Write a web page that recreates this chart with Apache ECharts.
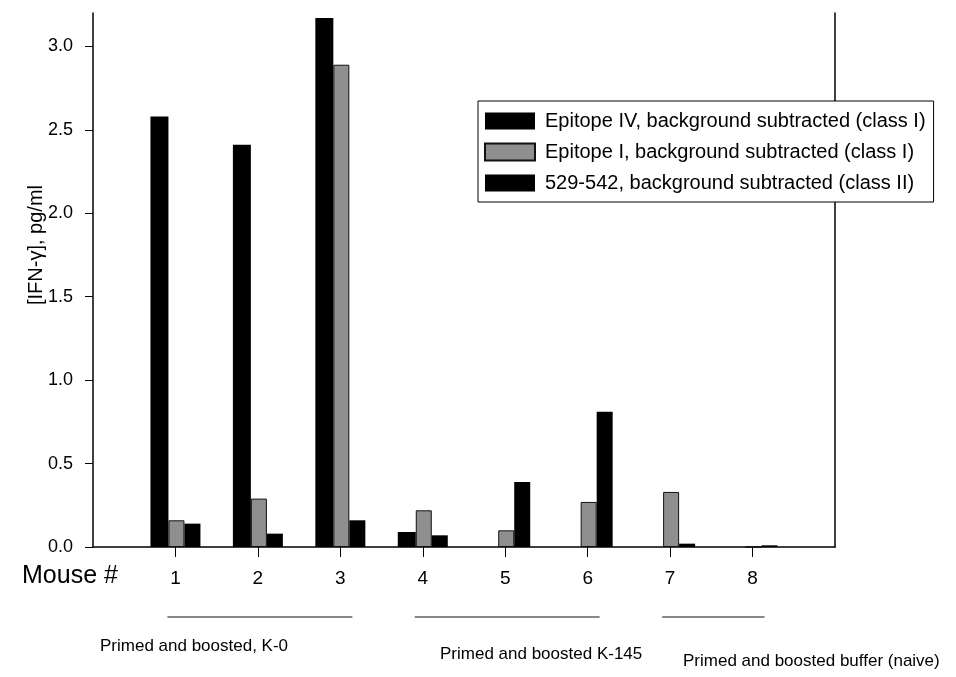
<!DOCTYPE html>
<html lang="en">
<head>
  <meta charset="UTF-8">
  <title>IFN-gamma by mouse</title>
  <style>
    html, body { margin: 0; padding: 0; background: #fff; }
    #main { width: 956px; height: 677px; }
  </style>
</head>
<body>
<div id="main"></div>
<script src="https://cdn.jsdelivr.net/npm/echarts@6/dist/echarts.min.js"></script>
<script>
  // mice 1..8, with an empty slot at each end so the y axis sits at "0"
  var mice = ['1', '2', '3', '4', '5', '6', '7', '8'];
  var epitopeIV = [2.58, 2.41, 3.17, 0.09, 0, 0, 0, 0];
  var epitopeI = [0.16, 0.29, 2.89, 0.22, 0.10, 0.27, 0.33, 0];
  var pep529 = [0.14, 0.08, 0.16, 0.07, 0.39, 0.81, 0.02, 0.01];
  var yTicks = [0, 0.5, 1.0, 1.5, 2.0, 2.5, 3.0];
  var groups = [
    { name: 'Primed and boosted, K-0', from: '1', to: '3' },
    { name: 'Primed and boosted K-145', from: '4', to: '6' },
    { name: 'Primed and boosted buffer (naive)', from: '7', to: '8' }
  ];

  var font = 'Liberation Sans, Arial, sans-serif';
  var cats = [''].concat(mice, ['']);
  var pad = function (arr) { return [null].concat(arr, [null]); };

  var chartDom = document.getElementById('main');
  var myChart = echarts.init(chartDom);

  var option = {
    backgroundColor: '#fff',
    animation: false,
    textStyle: { fontFamily: font, color: '#000' },
    grid: { left: 93, top: 13, width: 742, height: 534 },
    legend: {
      orient: 'vertical',
      left: 478,
      top: 101,
      icon: 'rect',
      itemWidth: 50,
      itemHeight: 17,
      itemGap: 11,
      padding: [10, 8, 9, 6],
      borderColor: '#000',
      borderWidth: 1,
      backgroundColor: '#fff',
      textStyle: { fontSize: 20, color: '#000', fontFamily: font, padding: [0, 0, 0, 5] },
      data: [
        'Epitope IV, background subtracted (class I)',
        'Epitope I, background subtracted (class I)',
        '529-542, background subtracted (class II)'
      ]
    },
    xAxis: {
      type: 'category',
      data: cats,
      boundaryGap: false,
      axisLine: { lineStyle: { color: '#000', width: 1.5 } },
      axisTick: {
        inside: false,
        length: 10,
        lineStyle: { color: '#000' },
        interval: function (idx) { return idx >= 1 && idx <= mice.length; }
      },
      axisLabel: {
        margin: 22,
        fontSize: 19,
        color: '#000',
        interval: 0,
        fontFamily: font
      },
      splitLine: { show: false }
    },
    yAxis: [
      {
        type: 'value',
        min: 0,
        max: 3.2,
        name: '[IFN-γ], pg/ml',
        nameLocation: 'middle',
        nameGap: 47,
        nameMoveOverlap: false,
        nameTextStyle: { fontSize: 20, color: '#000', fontFamily: font, padding: [0, 0, 0, 70] },
        axisLine: { show: true, lineStyle: { color: '#000', width: 1.5 } },
        axisTick: { show: true, length: 8, customValues: yTicks, lineStyle: { color: '#000' } },
        axisLabel: {
          customValues: yTicks,
          fontSize: 18,
          color: '#000',
          margin: 20,
          fontFamily: font,
          formatter: function (v) { return v.toFixed(1); }
        },
        splitLine: { show: false }
      },
      {
        type: 'value',
        min: 0,
        max: 3.2,
        position: 'right',
        axisLine: { show: true, lineStyle: { color: '#000', width: 1.5 } },
        axisTick: { show: false },
        axisLabel: { show: false },
        splitLine: { show: false }
      }
    ],
    series: [
      {
        name: 'Epitope IV, background subtracted (class I)',
        type: 'bar',
        barWidth: 18,
        barGap: 0,
        itemStyle: { color: '#000' },
        data: pad(epitopeIV)
      },
      {
        name: 'Epitope I, background subtracted (class I)',
        type: 'bar',
        barWidth: 16,
        barGap: 0,
        itemStyle: { color: '#8f8f8f', borderColor: '#111', borderWidth: 1 },
        data: pad(epitopeI)
      },
      {
        name: '529-542, background subtracted (class II)',
        type: 'bar',
        barWidth: 16,
        barGap: 0,
        itemStyle: { color: '#000' },
        data: pad(pep529)
      }
    ]
  };

  myChart.setOption(option);

  // labels under the axis: "Mouse #", group lines and group names
  var baseY = myChart.convertToPixel({ yAxisIndex: 0 }, 0);
  var graphics = [
    {
      type: 'text',
      left: 22,
      top: baseY + 17,
      style: { text: 'Mouse #', font: '25px ' + font, fill: '#000' }
    }
  ];
  var textTops = [638, 646, 653];
  var textLefts = [100, 440, 683];
  groups.forEach(function (g, i) {
    var x1 = myChart.convertToPixel({ xAxisIndex: 0 }, g.from) - 8;
    var x2 = myChart.convertToPixel({ xAxisIndex: 0 }, g.to) + 12;
    graphics.push({
      type: 'line',
      shape: { x1: x1, y1: baseY + 70, x2: x2, y2: baseY + 70 },
      style: { stroke: '#111', lineWidth: 1 }
    });
    graphics.push({
      type: 'text',
      left: textLefts[i],
      top: textTops[i],
      style: { text: g.name, font: '17px ' + font, fill: '#000' }
    });
  });
  myChart.setOption({ graphic: graphics });

  window.addEventListener('resize', function () {
    myChart.resize();
  });
</script>
</body>
</html>
